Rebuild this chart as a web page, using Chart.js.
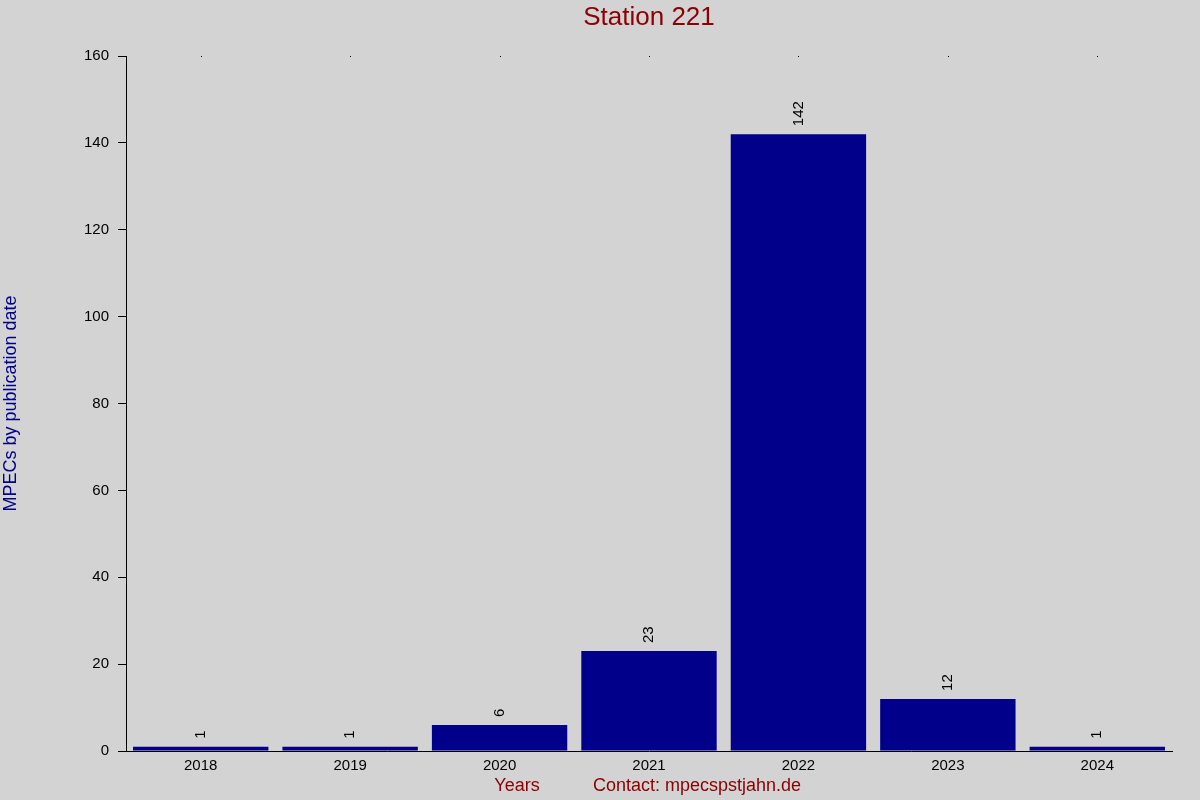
<!DOCTYPE html>
<html>
<head>
<meta charset="utf-8">
<script src="https://cdn.jsdelivr.net/npm/chart.js@4/dist/chart.umd.min.js"></script>
<style>
  html, body { margin: 0; padding: 0; background: #d3d3d3; }
  #wrap { width: 1200px; height: 800px; position: relative; }
</style>
</head>
<body>
<div id="wrap"><canvas id="stationChart" width="1200" height="800"></canvas></div>
<script>
const years = ['2018', '2019', '2020', '2021', '2022', '2023', '2024'];
const mpecCounts = [1, 1, 6, 23, 142, 12, 1];
const yMax = 160;
const yStep = 20;

const FONT = '"Liberation Sans", Arial, sans-serif';
const darkRed = '#8b0000';
const darkBlue = '#00008b';

// extra texts and marks: value labels, top dots, title, footer
const decorations = {
    id: 'decorations',
    beforeDraw(chart) {
        const ctx = chart.ctx;
        ctx.save();
        ctx.fillStyle = '#d3d3d3';
        ctx.fillRect(0, 0, chart.width, chart.height);
        ctx.restore();
    },
    afterDraw(chart) {
        const ctx = chart.ctx;
        const area = chart.chartArea;
        const xScale = chart.scales.x;
        ctx.save();

        // tiny dots at top of each category
        ctx.fillStyle = '#000';
        years.forEach((_, i) => {
            const x = Math.round(xScale.getPixelForValue(i));
            ctx.fillRect(x, area.top, 1, 1);
        });

        // rotated value labels
        const meta = chart.getDatasetMeta(0);
        ctx.font = '15px ' + FONT;
        ctx.fillStyle = '#000';
        ctx.textAlign = 'left';
        ctx.textBaseline = 'middle';
        meta.data.forEach((bar, i) => {
            ctx.save();
            ctx.translate(bar.x, bar.y - 8);
            ctx.rotate(-Math.PI / 2);
            ctx.fillText(String(mpecCounts[i]), 0, 0);
            ctx.restore();
        });

        // title
        ctx.fillStyle = darkRed;
        ctx.textAlign = 'center';
        ctx.font = '26px ' + FONT;
        ctx.fillText('Station 221', 649, 18);

        // footer
        ctx.font = '18px ' + FONT;
        ctx.fillText('Years', 517, 786);
        ctx.fillText('Contact: mpecspstjahn.de', 697, 786);
        ctx.restore();
    }
};

const ctx = document.getElementById('stationChart').getContext('2d');
new Chart(ctx, {
    type: 'bar',
    data: {
        labels: years,
        datasets: [{
            data: mpecCounts,
            backgroundColor: darkBlue,
            borderWidth: 0,
            barPercentage: 0.906,
            categoryPercentage: 1.0,
        }],
    },
    options: {
        responsive: false,
        animation: false,
        devicePixelRatio: 1,
        layout: { padding: { top: 56, right: 28, left: 0, bottom: 0 } },
        plugins: {
            legend: { display: false },
            tooltip: { enabled: false },
        },
        scales: {
            x: {
                grid: { display: false, drawTicks: false },
                border: { display: true, color: '#000', width: 1 },
                ticks: { color: '#000', font: { family: FONT, size: 15 }, padding: 6 },
                afterFit: (scale) => { scale.height = 49; },
            },
            y: {
                min: 0,
                max: yMax,
                ticks: { stepSize: yStep, color: '#000', font: { family: FONT, size: 15 }, padding: 9 },
                grid: { drawOnChartArea: false, drawTicks: true, tickLength: 8, color: '#000' },
                border: { display: true, color: '#000', width: 1 },
                title: {
                    display: true,
                    text: 'MPECs by publication date',
                    color: darkBlue,
                    font: { family: FONT, size: 18 },
                    padding: 0,
                },
                afterFit: (scale) => { scale.width = 126; },
            },
        },
    },
    plugins: [decorations],
});
</script>
</body>
</html>
